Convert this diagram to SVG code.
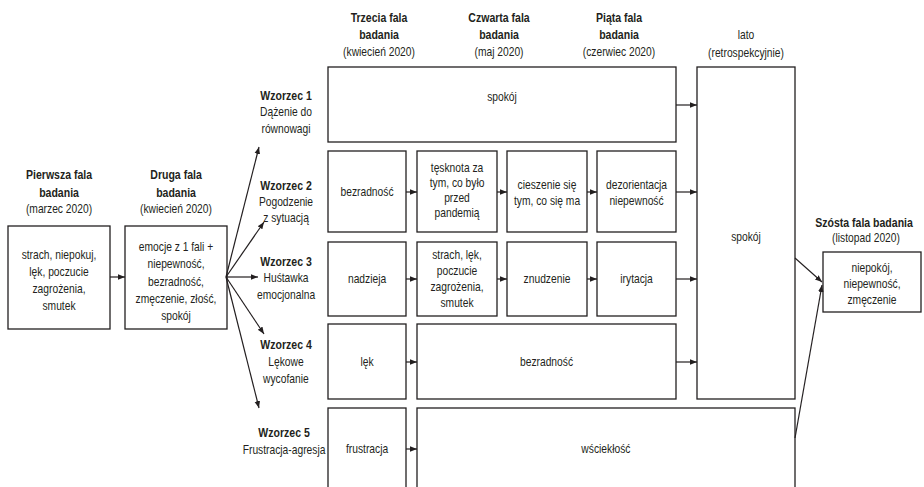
<svg xmlns="http://www.w3.org/2000/svg" width="924" height="487" viewBox="0 0 924 487">
<style>
text{font-family:"Liberation Sans",Arial,sans-serif;font-size:13px;fill:#231f20;text-anchor:middle;transform-box:fill-box;transform-origin:center;transform:scaleX(0.79)}
.b{font-weight:bold;transform:scaleX(0.81)}
rect{fill:#fff;stroke:#231f20;stroke-width:1.3}
.c line{stroke:#231f20;stroke-width:1.2;marker-end:url(#ah)}
</style>
<defs>
<marker id="ah" markerUnits="userSpaceOnUse" markerWidth="8" markerHeight="8" viewBox="0 0 8 8" refX="7" refY="4" orient="auto">
<path d="M0,1.2 L7,4 L0,6.8 Z" fill="#231f20"/>
</marker>
</defs>
<rect x="0" y="0" width="924" height="487" style="stroke:none"/>

<g id="headers">
<text x="59" y="179.5" class="b">Pierwsza fala</text>
<text x="59" y="197.5" class="b">badania</text>
<text x="59" y="213.5">(marzec 2020)</text>
<text x="176" y="179.5" class="b">Druga fala</text>
<text x="176" y="197.5" class="b">badania</text>
<text x="176" y="213.5">(kwiecień 2020)</text>
<text x="379" y="22.5" class="b">Trzecia fala</text>
<text x="379" y="39.5" class="b">badania</text>
<text x="379" y="56.5">(kwiecień 2020)</text>
<text x="499" y="22.5" class="b">Czwarta fala</text>
<text x="499" y="39.5" class="b">badania</text>
<text x="499" y="56.5">(maj 2020)</text>
<text x="619" y="22.5" class="b">Piąta fala</text>
<text x="619" y="39.5" class="b">badania</text>
<text x="619" y="56.5">(czerwiec 2020)</text>
<text x="746" y="39.5">lato</text>
<text x="746" y="57.5">(retrospekcyjnie)</text>
<text x="864" y="227.5" class="b">Szósta fala badania</text>
<text x="866" y="242.5">(listopad 2020)</text>
</g>

<g id="patterns">
<text x="286" y="100.5" class="b">Wzorzec 1</text>
<text x="286" y="116.5">Dążenie do</text>
<text x="286" y="133">równowagi</text>
<text x="286" y="190.5" class="b">Wzorzec 2</text>
<text x="286" y="206.5">Pogodzenie</text>
<text x="286" y="222.5">z sytuacją</text>
<text x="286" y="266.5" class="b">Wzorzec 3</text>
<text x="286" y="282.5">Huśtawka</text>
<text x="286" y="299">emocjonalna</text>
<text x="286" y="349.5" class="b">Wzorzec 4</text>
<text x="286" y="366.5">Lękowe</text>
<text x="286" y="383.5">wycofanie</text>
<text x="284" y="437.5" class="b">Wzorzec 5</text>
<text x="284" y="454.5">Frustracja-agresja</text>
</g>

<g id="n-fala1">
<rect x="8" y="226" width="102" height="103"/>
<text x="59" y="259.5">strach, niepokuj,</text>
<text x="59" y="276.5">lęk, poczucie</text>
<text x="59" y="293.5">zagrożenia,</text>
<text x="59" y="310.5">smutek</text>
</g>
<g id="n-fala2">
<rect x="125" y="226" width="102" height="103"/>
<text x="176" y="251.5">emocje z 1 fali +</text>
<text x="176" y="268.5">niepewność,</text>
<text x="176" y="286">bezradność,</text>
<text x="176" y="303">zmęczenie, złość,</text>
<text x="176" y="320">spokój</text>
</g>

<g id="n-w1">
<rect x="328" y="67" width="348" height="75"/>
<text x="502" y="101.5">spokój</text>
</g>

<g id="n-w2a"><rect x="328" y="151" width="78" height="81"/><text x="367" y="196.5">bezradność</text></g>
<g id="n-w2b"><rect x="417" y="151" width="80" height="81"/>
<text x="457" y="172.5">tęsknota za</text><text x="457" y="187.5">tym, co było</text><text x="457" y="202.5">przed</text><text x="457" y="217.5">pandemią</text></g>
<g id="n-w2c"><rect x="507" y="151" width="80" height="81"/>
<text x="547" y="189.5">cieszenie się</text><text x="547" y="205.5">tym, co się ma</text></g>
<g id="n-w2d"><rect x="597" y="151" width="79" height="81"/>
<text x="636.5" y="189.5">dezorientacja</text><text x="636.5" y="205.5">niepewność</text></g>

<g id="n-w3a"><rect x="328" y="242" width="78" height="74"/><text x="367" y="283">nadzieja</text></g>
<g id="n-w3b"><rect x="417" y="242" width="80" height="74"/>
<text x="457" y="259.5">strach, lęk,</text><text x="457" y="275">poczucie</text><text x="457" y="291">zagrożenia,</text><text x="457" y="307">smutek</text></g>
<g id="n-w3c"><rect x="507" y="242" width="80" height="74"/><text x="547" y="283">znudzenie</text></g>
<g id="n-w3d"><rect x="597" y="242" width="79" height="74"/><text x="636.5" y="283">irytacja</text></g>

<g id="n-w4a"><rect x="328" y="324" width="78" height="75"/><text x="367" y="366.5">lęk</text></g>
<g id="n-w4b"><rect x="417" y="324" width="259" height="75"/><text x="546.5" y="366.5">bezradność</text></g>

<g id="n-w5a"><rect x="328" y="408" width="78" height="90"/><text x="367" y="453.5">frustracja</text></g>
<g id="n-w5b"><rect x="417" y="408" width="378" height="90"/><text x="606" y="453.5">wściekłość</text></g>

<g id="n-lato"><rect x="697" y="67" width="98" height="332"/><text x="746" y="241.5">spokój</text></g>

<g id="n-fala6"><rect x="823" y="252" width="98" height="60"/>
<text x="872" y="272.5">niepokój,</text><text x="872" y="288.5">niepewność,</text><text x="872" y="304.5">zmęczenie</text></g>

<g id="connectors" class="c">
<line x1="110" y1="277" x2="125" y2="277"/>
<line x1="226" y1="277" x2="259" y2="147"/>
<line x1="226" y1="277" x2="264" y2="222"/>
<line x1="226" y1="277" x2="258" y2="277"/>
<line x1="226" y1="277" x2="264" y2="334"/>
<line x1="226" y1="277" x2="259" y2="408"/>
<line x1="676" y1="105" x2="697" y2="105"/>
<line x1="406" y1="192" x2="417" y2="192"/>
<line x1="497" y1="192" x2="507" y2="192"/>
<line x1="587" y1="192" x2="597" y2="192"/>
<line x1="676" y1="192" x2="697" y2="192"/>
<line x1="406" y1="279" x2="417" y2="279"/>
<line x1="497" y1="279" x2="507" y2="279"/>
<line x1="587" y1="279" x2="597" y2="279"/>
<line x1="676" y1="279" x2="697" y2="279"/>
<line x1="406" y1="362" x2="417" y2="362"/>
<line x1="676" y1="362" x2="697" y2="362"/>
<line x1="406" y1="449" x2="417" y2="449"/>
<line x1="795" y1="258" x2="822" y2="282"/>
<line x1="795" y1="438" x2="822" y2="285"/>
</g>
</svg>
